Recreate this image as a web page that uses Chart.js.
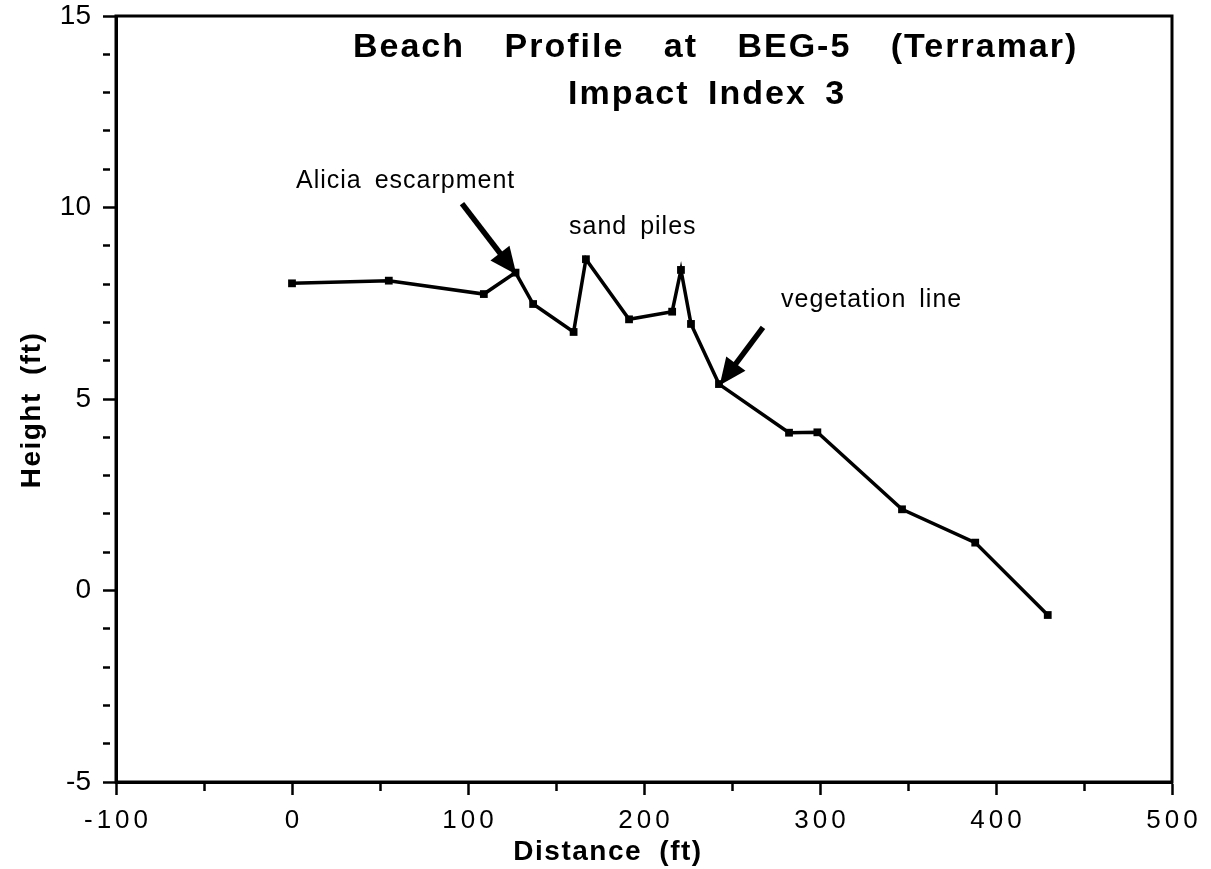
<!DOCTYPE html>
<html><head><meta charset="utf-8">
<script src="https://cdn.jsdelivr.net/npm/chart.js@4.4.1/dist/chart.umd.min.js"></script>
<style>html,body{margin:0;padding:0;background:#fff;}canvas{display:block;}</style>
</head><body>
<canvas id="c" width="1211" height="869"></canvas>
<script>
// ---- data ----
const distance = [0, 55, 109, 127, 137, 160, 167, 191.5, 216, 221, 226.7, 242.6, 282.4, 298.5, 346.6, 388.2, 429.4];
const heightFt = [8.02, 8.09, 7.74, 8.30, 7.48, 6.75, 8.65, 7.08, 7.28, 8.37, 6.96, 5.39, 4.12, 4.13, 2.12, 1.25, -0.64];
const xMajorTicks = [-100, 0, 100, 200, 300, 400, 500];
const yMajorTicks = [-5, 0, 5, 10, 15];
const titleLines = ['Beach Profile at BEG-5 (Terramar)', 'Impact Index 3'];
const xAxisTitle = 'Distance (ft)';
const yAxisTitle = 'Height (ft)';
const noteTexts = ['Alicia escarpment', 'sand piles', 'vegetation line'];

const FONT = '"Liberation Sans", Arial, Helvetica, sans-serif';

const points = distance.map((d, i) => ({x: d, y: heightFt[i]}));

const decorPlugin = {
  id: 'decor',
  beforeDraw(chart) {
    const s = chart.scales.x;
    if (s && !s.__ls) {
      const orig = s.drawLabels;
      s.drawLabels = function (area) {
        const ctx = this.ctx;
        ctx.save();
        ctx.letterSpacing = '4px';
        ctx.translate(2, 0);
        orig.call(this, area);
        ctx.restore();
      };
      s.__ls = true;
    }
  },
  afterDatasetsDraw(chart) {
    const ctx = chart.ctx, a = chart.chartArea;
    const xs = chart.scales.x, ys = chart.scales.y;
    ctx.save();
    // frame
    ctx.strokeStyle = '#000';
    ctx.lineWidth = 3;
    ctx.strokeRect(a.left, a.top, a.right - a.left, a.bottom - a.top);

    // arrows (data coordinates)
    function arrow(x0, y0, x1, y1) {
      const p0 = [xs.getPixelForValue(x0), ys.getPixelForValue(y0)];
      const p1 = [xs.getPixelForValue(x1), ys.getPixelForValue(y1)];
      const ang = Math.atan2(p1[1] - p0[1], p1[0] - p0[0]);
      const hl = 27, hw = 12;
      const bx = p1[0] - hl * Math.cos(ang), by = p1[1] - hl * Math.sin(ang);
      ctx.beginPath();
      ctx.lineWidth = 5.5;
      ctx.lineCap = 'butt';
      ctx.moveTo(p0[0], p0[1]);
      ctx.lineTo(bx + 4 * Math.cos(ang), by + 4 * Math.sin(ang));
      ctx.stroke();
      ctx.beginPath();
      ctx.moveTo(p1[0], p1[1]);
      ctx.lineTo(bx + hw * Math.sin(ang), by - hw * Math.cos(ang));
      ctx.lineTo(bx - hw * Math.sin(ang), by + hw * Math.cos(ang));
      ctx.closePath();
      ctx.fillStyle = '#000';
      ctx.fill();
    }
    arrow(96.6, 10.1, 127.5, 8.25);
    arrow(267.6, 6.87, 243, 5.36);

    // notes
    ctx.fillStyle = '#000';
    ctx.textBaseline = 'alphabetic';
    ctx.textAlign = 'left';
    ctx.font = '25px ' + FONT;
    ctx.letterSpacing = '1px';
    ctx.wordSpacing = '5px';
    ctx.fillText(noteTexts[0], 296, 188);
    ctx.fillText(noteTexts[1], 569, 234);
    ctx.fillText(noteTexts[2], 781, 307);

    // title
    ctx.font = 'bold 34px ' + FONT;
    ctx.letterSpacing = '2px';
    ctx.wordSpacing = '28px';
    ctx.fillText(titleLines[0], 353, 57);
    ctx.wordSpacing = '7px';
    ctx.fillText(titleLines[1], 568, 104);

    // axis titles
    ctx.font = 'bold 28px ' + FONT;
    ctx.letterSpacing = '1.5px';
    ctx.wordSpacing = '8px';
    ctx.textAlign = 'center';
    ctx.fillText(xAxisTitle, 608, 860);
    ctx.translate(40, 410);
    ctx.rotate(-Math.PI / 2);
    ctx.fillText(yAxisTitle, 0, 0);
    ctx.restore();
  }
};

new Chart(document.getElementById('c'), {
  type: 'scatter',
  data: {
    datasets: [{
      data: points,
      showLine: true,
      borderColor: '#000',
      borderWidth: 3.5,
      pointStyle: 'rect',
      pointRadius: 5.5,
      pointBackgroundColor: '#000',
      pointBorderColor: '#000',
      pointBorderWidth: 0,
      tension: 0
    }]
  },
  options: {
    responsive: false,
    animation: false,
    devicePixelRatio: 1,
    layout: {padding: {left: 0, top: 16, right: 39, bottom: 0}},
    plugins: {legend: {display: false}, tooltip: {enabled: false}, title: {display: false}},
    scales: {
      x: {
        type: 'linear', min: -100, max: 500,
        afterFit(s) { s.height = 87; s.paddingLeft = 0; s.paddingRight = 0; },
        border: {display: true, color: '#000', width: 3},
        grid: {
          display: true, drawOnChartArea: false, drawTicks: true,
          tickLength: 13, tickColor: '#000', tickWidth: 2.5,
          tickBorderDash: (c) => (c.tick && !xMajorTicks.includes(c.tick.value)) ? [7, 40] : []
        },
        ticks: {
          stepSize: 50, autoSkip: false, maxRotation: 0, padding: 10,
          color: '#000', font: {family: FONT, size: 26},
          callback: (v) => xMajorTicks.includes(v) ? String(v) : ''
        }
      },
      y: {
        type: 'linear', min: -5, max: 15,
        afterFit(s) { s.width = 116; s.paddingTop = 0; s.paddingBottom = 0; },
        border: {display: true, color: '#000', width: 3},
        grid: {
          display: true, drawOnChartArea: false, drawTicks: true,
          tickLength: 13, tickColor: '#000', tickWidth: 2.5,
          tickBorderDash: (c) => (c.tick && !yMajorTicks.includes(c.tick.value)) ? [7, 40] : []
        },
        ticks: {
          stepSize: 1, autoSkip: false, padding: 12,
          color: '#000', font: {family: FONT, size: 28},
          callback: (v) => yMajorTicks.includes(v) ? String(v) : ''
        }
      }
    }
  },
  plugins: [decorPlugin]
});
</script>
</body></html>
